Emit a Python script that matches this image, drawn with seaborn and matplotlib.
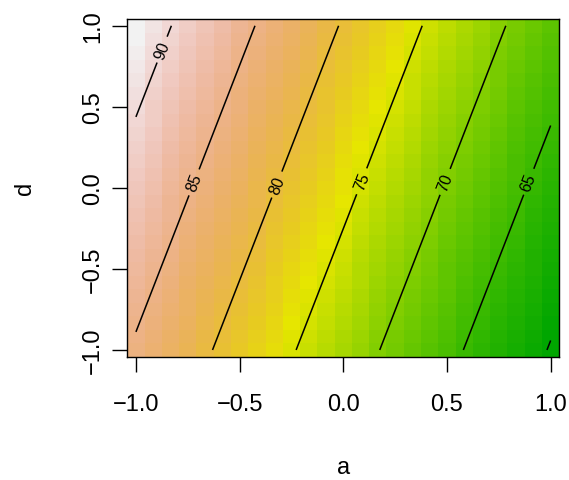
import colorsys

import numpy as np
import pandas as pd
import matplotlib
matplotlib.use("Agg")
import matplotlib.pyplot as plt
from matplotlib.colors import ListedColormap
import seaborn as sns

# Fitted response surface: response = intercept + coef_a * a + coef_d * d
intercept = 75.95
coef_a = -12.4
coef_d = 3.77

# Factor grid (coded units)
a_levels = np.round(np.linspace(-1, 1, 25), 4)
d_levels = np.round(np.linspace(-1, 1, 25), 4)

contour_levels = [60, 65, 70, 75, 80, 85, 90]
# (a, d) spots where the contour labels sit (65, 70, 75, 80, 85, 90)
label_spots_a = [0.89, 0.485, 0.09, -0.30, -0.72, -0.874]
label_spots_d = [0.04, 0.04, 0.04, 0.01, 0.034, 0.853]

tick_values = [-1.0, -0.5, 0.0, 0.5, 1.0]
tick_labels = ["\u22121.0", "\u22120.5", "0.0", "0.5", "1.0"]


def terrain_colors(n):
    """R's terrain.colors palette."""
    k = n // 2
    h = (4 / 12, 2 / 12, 0.0)
    s = (1.0, 1.0, 0.0)
    v = (0.65, 0.90, 0.95)
    cols = []
    for hh, ss, vv in zip(np.linspace(h[0], h[1], k), np.linspace(s[0], s[1], k),
                          np.linspace(v[0], v[1], k)):
        cols.append(colorsys.hsv_to_rgb(hh, ss, vv))
    m = n - k + 1
    for hh, ss, vv in zip(np.linspace(h[1], h[2], m)[1:], np.linspace(s[1], s[2], m)[1:],
                          np.linspace(v[1], v[2], m)[1:]):
        cols.append(colorsys.hsv_to_rgb(hh, ss, vv))
    return cols


A, D = np.meshgrid(a_levels, d_levels)
Z = intercept + coef_a * A + coef_d * D

# Heatmap rows go top to bottom, so put d = 1 first
grid = pd.DataFrame(Z[::-1, :], index=d_levels[::-1], columns=a_levels)

sns.set_theme(style="white")
plt.rcParams["font.family"] = ["Liberation Sans", "DejaVu Sans"]

fig = plt.figure(figsize=(5.69, 4.81), dpi=100)
ax = fig.add_axes([0.2237, 0.2563, 0.7592, 0.7021])

cmap = ListedColormap(terrain_colors(100))
sns.heatmap(grid, ax=ax, cmap=cmap, vmin=Z.min(), vmax=Z.max(), cbar=False,
            xticklabels=False, yticklabels=False)

n_a, n_d = len(a_levels), len(d_levels)
step_a = (a_levels[-1] - a_levels[0]) / (n_a - 1)
step_d = (d_levels[-1] - d_levels[0]) / (n_d - 1)


def to_col(a):
    return (np.asarray(a) - a_levels[0]) / step_a + 0.5


def to_row(d):
    return (d_levels[-1] - np.asarray(d)) / step_d + 0.5


cx = to_col(a_levels)
cy = to_row(d_levels[::-1])
cs = ax.contour(cx, cy, grid.values, levels=contour_levels, colors="black",
                linewidths=1.1)
spots = list(zip(to_col(label_spots_a), to_row(label_spots_d)))
ax.clabel(cs, levels=contour_levels, inline=True, fmt="%d", fontsize=11.5,
          manual=spots, inline_spacing=5)

ax.set_xlim(0, n_a)
ax.set_ylim(n_d, 0)

ax.set_xticks(to_col(tick_values))
ax.set_xticklabels(tick_labels)
ax.set_yticks(to_row(tick_values))
ax.set_yticklabels(tick_labels, rotation=90, va="center")

ax.tick_params(axis="both", which="both", direction="out", length=10.8, width=1,
               color="black", labelsize=17, labelcolor="black",
               bottom=True, left=True)
ax.tick_params(axis="x", pad=15)
ax.tick_params(axis="y", pad=6)

for sp in ax.spines.values():
    sp.set_visible(True)
    sp.set_color("black")
    sp.set_linewidth(1)

ax.set_xlabel("a", fontsize=17, color="black")
ax.set_ylabel("d", fontsize=17, color="black")
ax.xaxis.set_label_coords(0.5, -0.3266)
ax.xaxis.label.set_va("center")
ax.yaxis.set_label_coords(-0.2368, 0.5)
ax.yaxis.label.set_va("center")

fig.savefig("out.png", dpi=100, facecolor="white")
